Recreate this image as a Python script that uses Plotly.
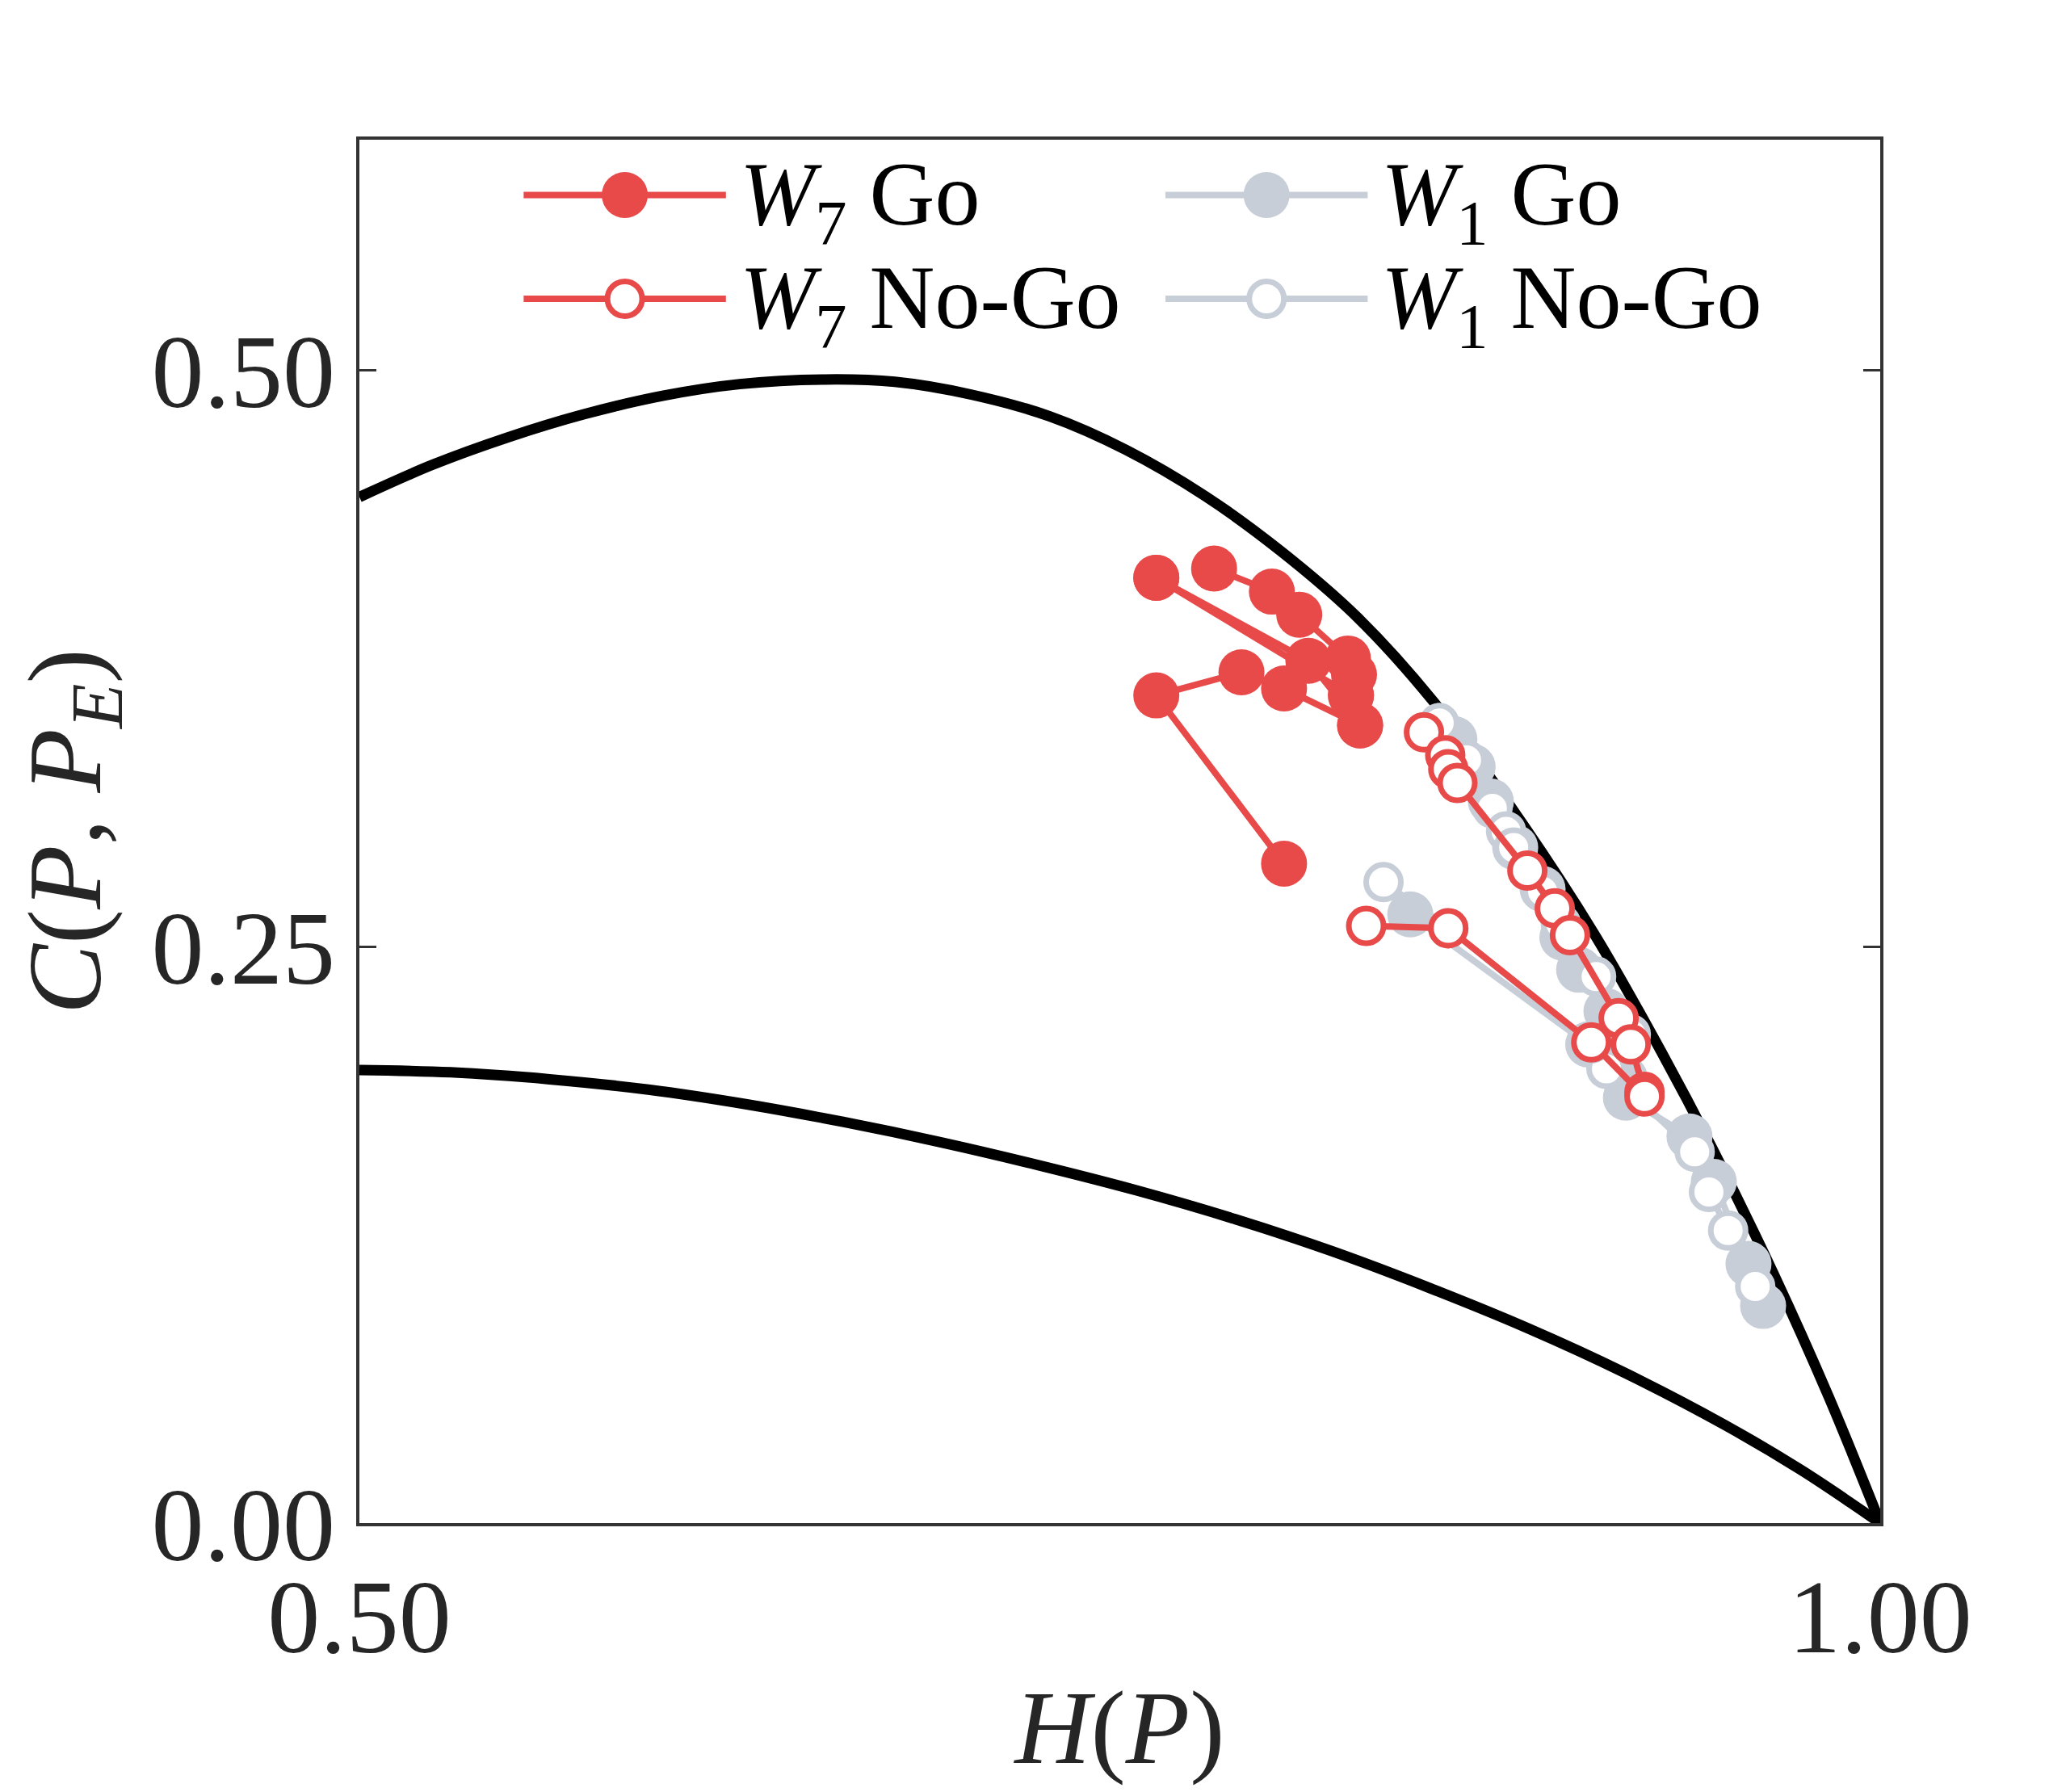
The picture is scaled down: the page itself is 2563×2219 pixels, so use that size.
import plotly.graph_objects as go

# bounds of the complexity-entropy plane
h_max = [0.500, 0.524, 0.549, 0.574, 0.600, 0.625, 0.653, 0.676, 0.701, 0.727,
         0.752, 0.778, 0.803, 0.828, 0.853, 0.881, 0.906, 0.928, 0.945, 0.965,
         0.983, 1.000]
c_max = [0.445, 0.459, 0.471, 0.481, 0.489, 0.494, 0.496, 0.495, 0.4895, 0.480,
         0.4655, 0.4455, 0.4215, 0.393, 0.3565, 0.306, 0.2555, 0.2045, 0.162, 0.108,
         0.055, 0.000]
h_min = [0.500, 0.530, 0.5625, 0.595, 0.627, 0.659, 0.691, 0.723, 0.7555, 0.788,
         0.820, 0.852, 0.884, 0.916, 0.9486, 0.974, 1.000]
c_min = [0.1965, 0.1955, 0.1925, 0.188, 0.1817, 0.174, 0.1652, 0.1553, 0.1443, 0.1318,
         0.1178, 0.1019, 0.0846, 0.0652, 0.0428, 0.0230, 0.000]

# trajectories, None separates one chain from the next
w7_go_h = [0.781, 0.800, 0.809, 0.825, 0.827, 0.826, None,
           0.762, 0.812, 0.829, None,
           0.762, 0.826, None,
           0.804, 0.762, 0.790, 0.804, 0.829]
w7_go_c = [0.414, 0.404, 0.394, 0.375, 0.368, 0.359, None,
           0.410, 0.374, 0.346, None,
           0.410, 0.359, None,
           0.286, 0.359, 0.369, 0.362, 0.346]

w7_nogo_h = [0.850, 0.857, 0.858, 0.861, 0.884, 0.893, 0.898, 0.914, 0.918, 0.9225, None,
             0.831, 0.858, 0.905, 0.9225]
w7_nogo_c = [0.343, 0.333, 0.327, 0.321, 0.283, 0.2666, 0.255, 0.219, 0.2076, 0.187, None,
             0.259, 0.258, 0.2085, 0.185]

w1_go_h = [0.860, 0.866, 0.872, 0.880, 0.889, 0.8955, 0.901, 0.910, 0.9164, 0.9373,
           0.9453, 0.9567, 0.9615, None,
           0.8455, 0.904, 0.916]
w1_go_c = [0.340, 0.328, 0.313, 0.293, 0.275, 0.254, 0.240, 0.222, 0.1845, 0.1677,
           0.148, 0.1124, 0.0942, None,
           0.264, 0.2076, 0.193]

w1_nogo_h = [0.855, 0.864, 0.8725, 0.877, 0.8795, 0.889, 0.895, 0.9066, 0.918, 0.910,
             0.939, 0.9437, 0.950, 0.9589, None,
             0.8367, 0.858, 0.905]
w1_nogo_c = [0.347, 0.331, 0.310, 0.300, 0.293, 0.274, 0.260, 0.237, 0.212, 0.197,
             0.161, 0.1436, 0.1269, 0.1026, None,
             0.278, 0.258, 0.208]

labels = ["<i>W</i><sub>7</sub> Go", "<i>W</i><sub>7</sub> No-Go",
          "<i>W</i><sub>1</sub> Go", "<i>W</i><sub>1</sub> No-Go"]

RED = "#e84a4a"
GRAY = "#c7ced8"
FONT = "Times New Roman, Liberation Serif, serif"

fig = go.Figure()

for hx, cy in [(h_max, c_max), (h_min, c_min)]:
    fig.add_trace(go.Scatter(x=hx, y=cy, mode="lines", line=dict(color="black", width=13, shape="spline"),
                             showlegend=False, hoverinfo="skip"))

def styles(color, filled):
    if filled:
        return dict(color=color, size=57, line=dict(width=0))
    return dict(color="white", size=43, line=dict(color=color, width=7))

series = [
    (w1_go_h, w1_go_c, GRAY, True),
    (w1_nogo_h, w1_nogo_c, GRAY, False),
    (w7_go_h, w7_go_c, RED, True),
    (w7_nogo_h, w7_nogo_c, RED, False),
]
for hx, cy, col, filled in series:
    fig.add_trace(go.Scatter(x=hx, y=cy, mode="lines+markers", line=dict(color=col, width=8),
                             marker=styles(col, filled), showlegend=False, connectgaps=False))

# hand-made legend on an overlay axis (0..1 over the plot area)
legend_items = [
    (labels[0], RED, True, 0, 0),
    (labels[1], RED, False, 0, 1),
    (labels[2], GRAY, True, 1, 0),
    (labels[3], GRAY, False, 1, 1),
]
col_x = [0.108, 0.530]
row_y = [0.960, 0.885]
key_len = 0.133
for text, col, filled, ci, ri in legend_items:
    x0 = col_x[ci]
    y0 = row_y[ri]
    fig.add_trace(go.Scatter(x=[x0, x0 + key_len], y=[y0, y0], mode="lines", xaxis="x2", yaxis="y2",
                             line=dict(color=col, width=8), showlegend=False, hoverinfo="skip"))
    fig.add_trace(go.Scatter(x=[x0 + key_len / 2], y=[y0], mode="markers", xaxis="x2", yaxis="y2",
                             marker=styles(col, filled), showlegend=False, hoverinfo="skip"))
    fig.add_annotation(x=x0 + key_len + 0.008, y=y0 - 0.004, xref="x2", yref="y2", text=text,
                       showarrow=False, xanchor="left", yanchor="middle",
                       font=dict(family=FONT, size=112, color="black"))

axis_common = dict(showline=True, linewidth=4, linecolor="#333333", showgrid=False, zeroline=False,
                   ticks="inside", ticklen=21, tickwidth=3, tickcolor="#333333",
                   tickfont=dict(family=FONT, size=130, color="#262626"), tickformat=".2f")

fig.update_layout(
    width=2563, height=2219,
    margin=dict(l=437, r=243, t=165, b=341),
    paper_bgcolor="white", plot_bgcolor="white",
    xaxis=dict(range=[0.5, 1.0], tickvals=[0.5, 1.0], mirror=True,
               title=dict(text="<i>H</i>(<i>P</i>)", font=dict(family=FONT, size=130, color="#262626"),
                          standoff=20),
               **axis_common),
    yaxis=dict(range=[0, 0.6], tickvals=[0, 0.25, 0.5], mirror="ticks",
               title=dict(text="<i>C</i>(<i>P</i>, <i>P<sub>E</sub></i>)",
                          font=dict(family=FONT, size=130, color="#262626"), standoff=40),
               **axis_common),
    xaxis2=dict(range=[0, 1], overlaying="x", visible=False, fixedrange=True),
    yaxis2=dict(range=[0, 1], overlaying="y", visible=False, fixedrange=True),
)

fig.write_html("out.html")
